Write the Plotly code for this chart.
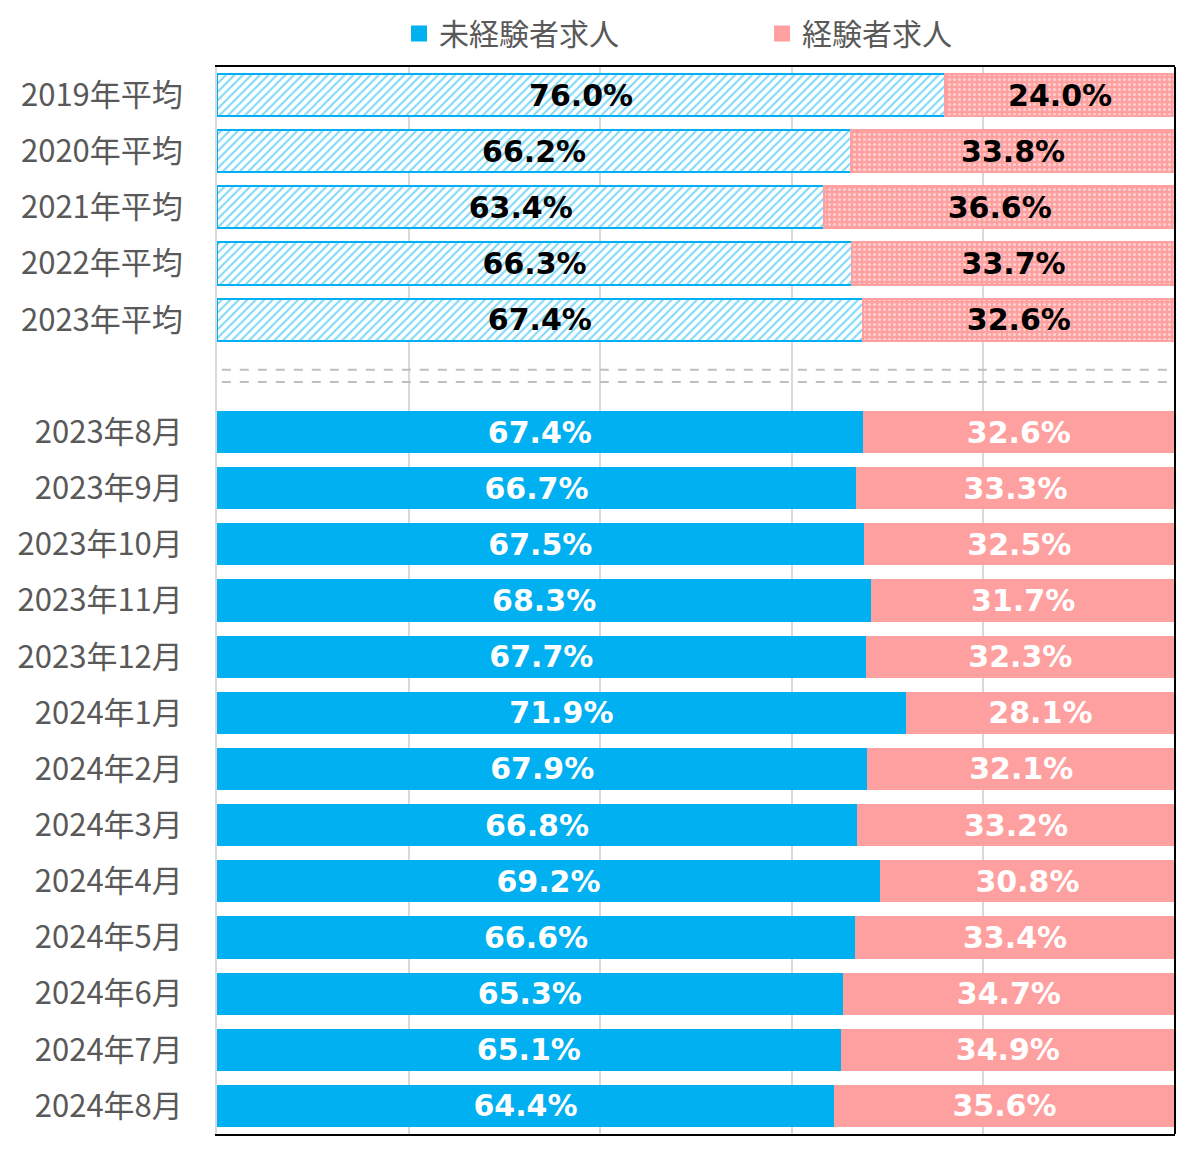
import plotly.graph_objects as go

# ---------------- data ----------------
avg_labels = ["2019年平均", "2020年平均", "2021年平均", "2022年平均", "2023年平均"]
avg_inexperienced = [76.0, 66.2, 63.4, 66.3, 67.4]
avg_experienced = [24.0, 33.8, 36.6, 33.7, 32.6]

month_labels = ["2023年8月", "2023年9月", "2023年10月", "2023年11月", "2023年12月",
                "2024年1月", "2024年2月", "2024年3月", "2024年4月", "2024年5月",
                "2024年6月", "2024年7月", "2024年8月"]
month_inexperienced = [67.4, 66.7, 67.5, 68.3, 67.7, 71.9, 67.9, 66.8, 69.2, 66.6, 65.3, 65.1, 64.4]
month_experienced = [32.6, 33.3, 32.5, 31.7, 32.3, 28.1, 32.1, 33.2, 30.8, 33.4, 34.7, 34.9, 35.6]

series_names = ["未経験者求人", "経験者求人"]
gap_label = " "
categories = avg_labels + [gap_label] + month_labels

BLUE = "#00B0F0"
PINK = "#FFA0A0"
LABEL_FONT = "DejaVu Sans"
JP_FONT = "Noto Sans CJK JP"
TXT_SIZE = 30

fig = go.Figure()

# yearly averages (patterned)
fig.add_trace(go.Bar(
    y=avg_labels, x=avg_inexperienced, orientation="h", name=series_names[0],
    showlegend=False,
    marker=dict(color="white", line=dict(color=BLUE, width=2),
                pattern=dict(shape="/", fgcolor=BLUE, bgcolor="white", size=6, solidity=0.35)),
    texttemplate="%{x:.1f}%", textposition="inside", insidetextanchor="middle",
    textfont=dict(family=LABEL_FONT, size=TXT_SIZE, color="black", weight="bold"),
    hoverinfo="skip",
))
fig.add_trace(go.Bar(
    y=avg_labels, x=avg_experienced, orientation="h", name=series_names[1],
    showlegend=False,
    marker=dict(color=PINK, line=dict(color=PINK, width=2),
                pattern=dict(shape=".", fgcolor="white", bgcolor=PINK, size=5, solidity=0.3)),
    texttemplate="%{x:.1f}%", textposition="inside", insidetextanchor="middle",
    textfont=dict(family=LABEL_FONT, size=TXT_SIZE, color="black", weight="bold"),
    hoverinfo="skip",
))

# monthly (solid)
fig.add_trace(go.Bar(
    y=month_labels, x=month_inexperienced, orientation="h", name=series_names[0],
    showlegend=False, marker=dict(color=BLUE, line=dict(width=0)),
    texttemplate="%{x:.1f}%", textposition="inside", insidetextanchor="middle",
    textfont=dict(family=LABEL_FONT, size=TXT_SIZE, color="white", weight="bold"),
))
fig.add_trace(go.Bar(
    y=month_labels, x=month_experienced, orientation="h", name=series_names[1],
    showlegend=False, marker=dict(color=PINK, line=dict(width=0)),
    texttemplate="%{x:.1f}%", textposition="inside", insidetextanchor="middle",
    textfont=dict(family=LABEL_FONT, size=TXT_SIZE, color="white", weight="bold"),
))

# legend entries
for nm, col in zip(series_names, [BLUE, PINK]):
    fig.add_trace(go.Scatter(x=[None], y=[None], mode="markers", name=nm,
                             marker=dict(symbol="square", size=22, color=col),
                             showlegend=True))

# dashed separator lines in the gap row
gap_idx = categories.index(gap_label)
for dy in (-0.11, 0.11):
    fig.add_shape(type="line", xref="paper", x0=0.005, x1=0.995, yref="y",
                  y0=gap_idx + dy, y1=gap_idx + dy,
                  line=dict(color="#BFBFBF", width=2, dash="dash"), layer="above")
# right frame edge
fig.add_shape(type="line", xref="paper", x0=1, x1=1, yref="paper", y0=0, y1=1,
              line=dict(color="black", width=2))

fig.update_layout(
    width=1200, height=1173,
    barmode="stack", bargap=0.25,
    plot_bgcolor="white", paper_bgcolor="white",
    margin=dict(l=209, r=33, t=59, b=47, autoexpand=False),
    uniformtext=dict(mode=False),
    legend=dict(orientation="h", traceorder="normal",
                x=0.19, xanchor="left", y=1.007, yanchor="bottom",
                entrywidth=318, entrywidthmode="pixels",
                font=dict(family=JP_FONT, size=30, color="#595959"),
                bgcolor="rgba(0,0,0,0)"),
    showlegend=True,
)
fig.update_xaxes(range=[0, 100], showticklabels=False, ticks="",
                 tickvals=[0, 20, 40, 60, 80, 100],
                 showgrid=True, gridcolor="#D9D9D9", gridwidth=2, zeroline=False,
                 showline=True, linecolor="black", linewidth=2, mirror=True)
fig.update_yaxes(type="category", categoryorder="array", categoryarray=categories,
                 autorange="reversed", showgrid=False, zeroline=False, automargin=False,
                 showline=True, linecolor="#D9D9D9", linewidth=2,
                 ticks="", ticklabelstandoff=26,
                 tickfont=dict(family=JP_FONT, size=31, color="#595959"))

fig.write_html("out.html")
